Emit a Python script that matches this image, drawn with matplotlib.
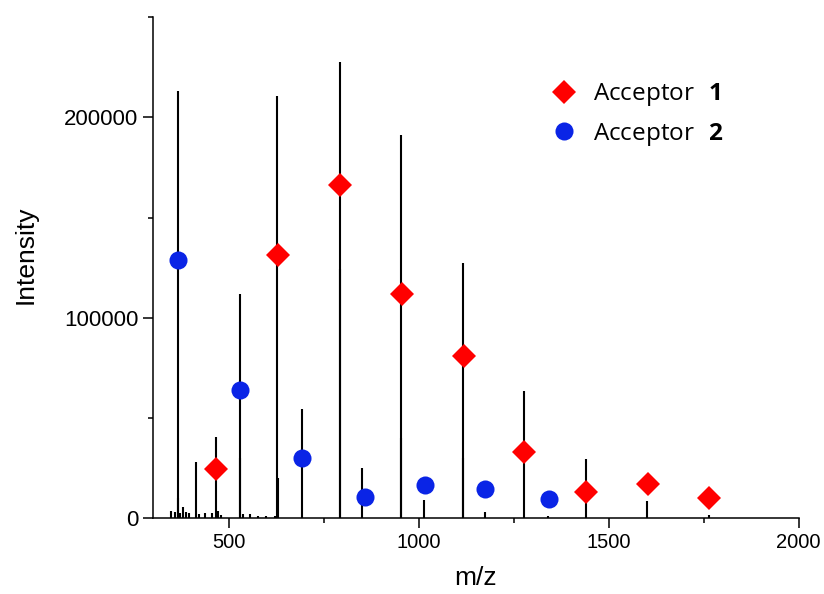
import numpy as np
import matplotlib
matplotlib.use('Agg')
import matplotlib.pyplot as plt
from matplotlib.ticker import MultipleLocator
from matplotlib.lines import Line2D

plt.rcParams['font.family'] = ['Liberation Sans', 'DejaVu Sans']
plt.rcParams['mathtext.fontset'] = 'custom'
plt.rcParams['mathtext.rm'] = 'Open Sans'
plt.rcParams['mathtext.bf'] = 'Open Sans:bold'

# stick spectrum (m/z, intensity)
mz = [348, 357, 365, 366, 372, 379, 386, 395, 412, 421, 436, 454, 467, 471,
      480, 528, 529, 537, 556, 576, 597, 620, 627.5, 628.5, 691, 792, 793,
      851, 953, 954, 1013, 1116, 1117, 1175, 1276, 1339, 1440, 1601, 1764]
intensity = [3800, 3300, 213300, 10000, 2500, 5500, 3300, 2500, 28000, 2000,
             2800, 2500, 40500, 3800, 1500, 111650, 30000, 2000, 2000, 1000,
             1000, 1000, 210600, 20000, 54650, 227500, 124500, 25000, 191150,
             40000, 9300, 127150, 30000, 3000, 63650, 1000, 29700, 8800, 1500]

# charge-state series
acc1_mz = [466, 628, 792, 955, 1118, 1276, 1440, 1603, 1765]
acc1_int = [24650, 131150, 166150, 111800, 80800, 33300, 13150, 17000, 10150]
acc2_mz = [367, 530, 693, 857, 1015, 1174, 1342]
acc2_int = [128700, 63800, 30000, 10800, 16500, 14650, 9650]

red = '#ff0000'
blue = '#0a24e6'

fig = plt.figure(figsize=(8.24, 5.94), dpi=100)
ax = fig.add_axes([0.1857, 0.1274, 0.7836, 0.8440])

ax.vlines(mz, 0, intensity, colors='black', linewidth=1.5)
ax.plot(acc1_mz, acc1_int, 'D', color=red, markersize=12.2, markeredgewidth=0, zorder=3)
ax.plot(acc2_mz, acc2_int, 'o', color=blue, markersize=13, markeredgewidth=0, zorder=3)

ax.set_xlim(300, 2000)
ax.set_ylim(0, 250000)
ax.xaxis.set_major_locator(MultipleLocator(500))
ax.xaxis.set_minor_locator(MultipleLocator(250))
ax.yaxis.set_major_locator(MultipleLocator(100000))
ax.yaxis.set_minor_locator(MultipleLocator(50000))
ax.set_xticks([500, 1000, 1500, 2000])

for side in ['top', 'right']:
    ax.spines[side].set_visible(False)
for side in ['left', 'bottom']:
    ax.spines[side].set_linewidth(1.1)

ax.tick_params(which='major', direction='out', length=7, width=1.1)
ax.tick_params(which='minor', direction='out', length=3.6, width=1.1)
ax.tick_params(axis='x', labelsize=14.5)
ax.tick_params(axis='y', labelsize=16)

ax.set_xlabel('m/z', fontsize=19, labelpad=10)
ax.set_ylabel('Intensity', fontsize=19)
ax.yaxis.set_label_coords(-0.178, 0.526)

handles = [
    Line2D([], [], linestyle='none', marker='D', color=red, markersize=12.2, markeredgewidth=0),
    Line2D([], [], linestyle='none', marker='o', color=blue, markersize=13, markeredgewidth=0),
]
labels = [r'$\mathrm{Acceptor}\ \ \mathbf{1}$', r'$\mathrm{Acceptor}\ \ \mathbf{2}$']
ax.legend(handles, labels, loc='upper left', bbox_to_anchor=(0.58, 0.915),
          frameon=False, fontsize=17.5, handletextpad=0.6, labelspacing=0.5,
          handlelength=1.2)

fig.savefig('out.png', dpi=100)
